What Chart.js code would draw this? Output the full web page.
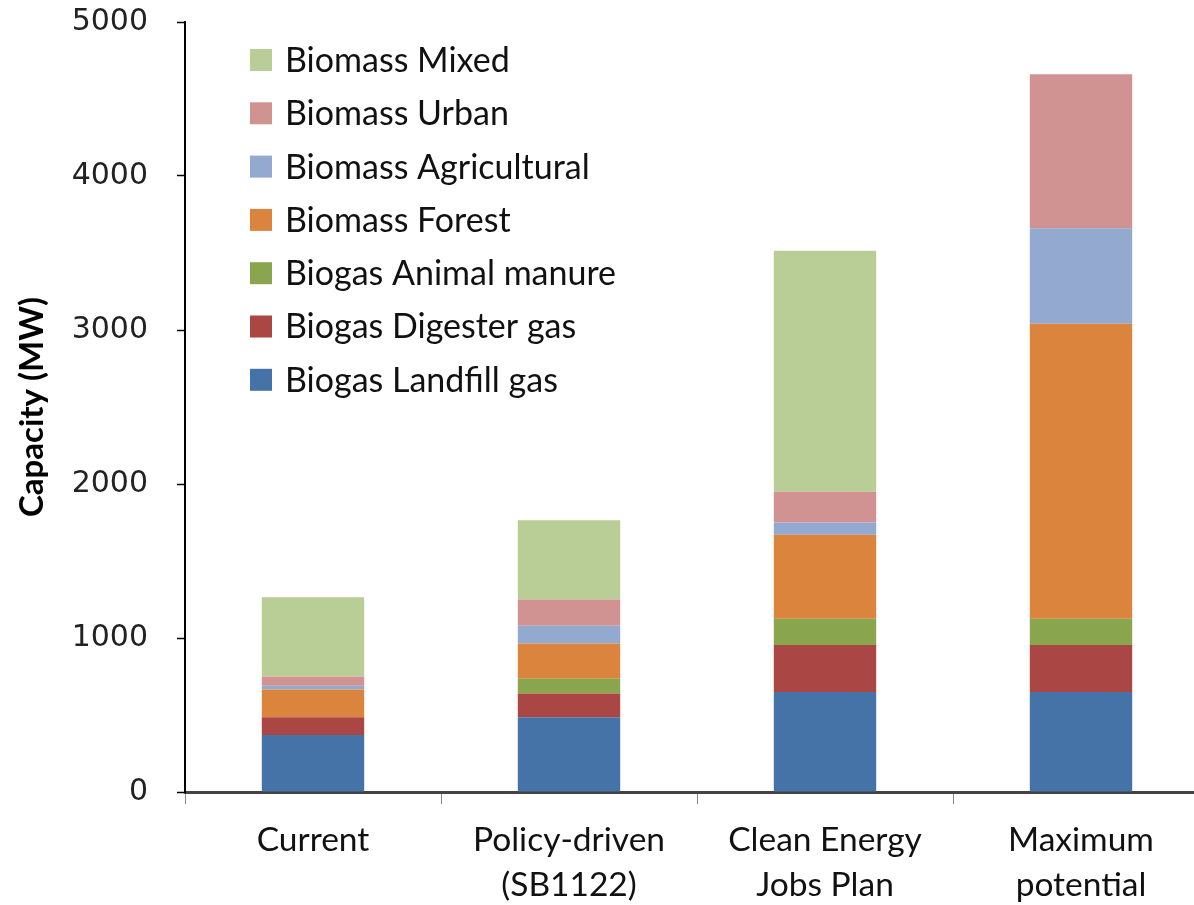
<!DOCTYPE html>
<html>
<head>
<meta charset="utf-8">
<script src="https://cdn.jsdelivr.net/npm/chart.js@4"></script>
<style>
  html, body { margin: 0; padding: 0; background: #fff; overflow: hidden; }
  #wrap { position: relative; width: 1210px; height: 905px; }
</style>
</head>
<body>
<div id="wrap"><canvas id="chart"></canvas></div>
<script>
// Bioenergy capacity scenarios, stacked by resource (MW)
const categories = ["Current", ["Policy-driven", "(SB1122)"], ["Clean Energy", "Jobs Plan"], ["Maximum", "potential"]];

const landfillGas   = [370, 485, 650, 650];
const digesterGas   = [115, 155, 305, 305];
const animalManure  = [0, 95, 170, 170];
const biomassForest = [180, 230, 545, 1915];
const biomassAgri   = [25, 115, 80, 620];
const biomassUrban  = [60, 170, 200, 1000];
const biomassMixed  = [515, 515, 1565, 0];

const yTicks = [0, 1000, 2000, 3000, 4000, 5000];

const LABEL_FONT = "'Liberation Sans Narrow', 'Lato', sans-serif";
const TICK_FONT = "'DejaVu Sans', Verdana, sans-serif";

const series = [
    { label: "Biogas Landfill gas", data: landfillGas, color: "#4572A7" },
    { label: "Biogas Digester gas", data: digesterGas, color: "#AA4643" },
    { label: "Biogas Animal manure", data: animalManure, color: "#89A54E" },
    { label: "Biomass Forest", data: biomassForest, color: "#DB843D" },
    { label: "Biomass Agricultural", data: biomassAgri, color: "#93A9CF" },
    { label: "Biomass Urban", data: biomassUrban, color: "#D19392" },
    { label: "Biomass Mixed", data: biomassMixed, color: "#B9CD96" }
];

// legend drawn inside the plot, top-left, in reverse stacking order
const insideLegend = {
    id: "insideLegend",
    afterDraw(chart) {
        const ctx = chart.ctx;
        const area = chart.chartArea;
        const items = chart.data.datasets.slice().reverse();
        ctx.save();
        ctx.font = "34px " + LABEL_FONT;
        ctx.textBaseline = "middle";
        ctx.textAlign = "left";
        items.forEach((ds, i) => {
            const cy = area.top + 38 + i * 53.3;
            ctx.fillStyle = ds.backgroundColor;
            ctx.fillRect(area.left + 65, cy - 11, 22, 22);
            ctx.fillStyle = "#111";
            ctx.fillText(ds.label, area.left + 100, cy + 1);
        });
        ctx.restore();
    }
};

const chart = new Chart(document.getElementById("chart"), {
    type: "bar",
    data: {
        labels: categories,
        datasets: series.map(s => ({
            label: s.label,
            data: s.data,
            backgroundColor: s.color,
            borderWidth: 0,
            barPercentage: 0.4,
            categoryPercentage: 1.0
        }))
    },
    options: {
        responsive: true,
        maintainAspectRatio: false,
        animation: false,
        layout: { padding: { top: 0, right: 1, bottom: 0, left: 0 } },
        plugins: {
            legend: { display: false },
            tooltip: { enabled: false }
        },
        scales: {
            x: {
                stacked: true,
                grid: {
                    offset: true,
                    drawOnChartArea: false,
                    tickLength: 12,
                    tickColor: "#888",
                    tickWidth: 1
                },
                border: { color: "#444", width: 3 },
                ticks: {
                    color: "#111",
                    padding: 14,
                    maxRotation: 0,
                    font: { family: LABEL_FONT, size: 33.5, lineHeight: 1.33 }
                },
                afterFit(axis) { axis.height = 113; }
            },
            y: {
                stacked: true,
                min: 0,
                max: 5000,
                afterBuildTicks(axis) { axis.ticks = yTicks.map(v => ({ value: v })); },
                grid: {
                    drawOnChartArea: false,
                    tickLength: 8,
                    tickColor: "#000",
                    tickWidth: 1.5
                },
                border: { color: "#000", width: 2 },
                ticks: {
                    color: "#222",
                    padding: 29,
                    font: { family: TICK_FONT, size: 30 },
                    callback: v => String(v)
                },
                title: {
                    display: true,
                    text: "Capacity (MW)",
                    color: "#000",
                    padding: { top: 13, bottom: 0 },
                    font: { family: LABEL_FONT, size: 33, weight: "bold" }
                },
                afterFit(axis) {
                    axis.width = 185;
                    axis.paddingTop = 22;
                    axis.paddingBottom = 0;
                }
            }
        }
    },
    plugins: [insideLegend]
});
</script>
</body>
</html>
